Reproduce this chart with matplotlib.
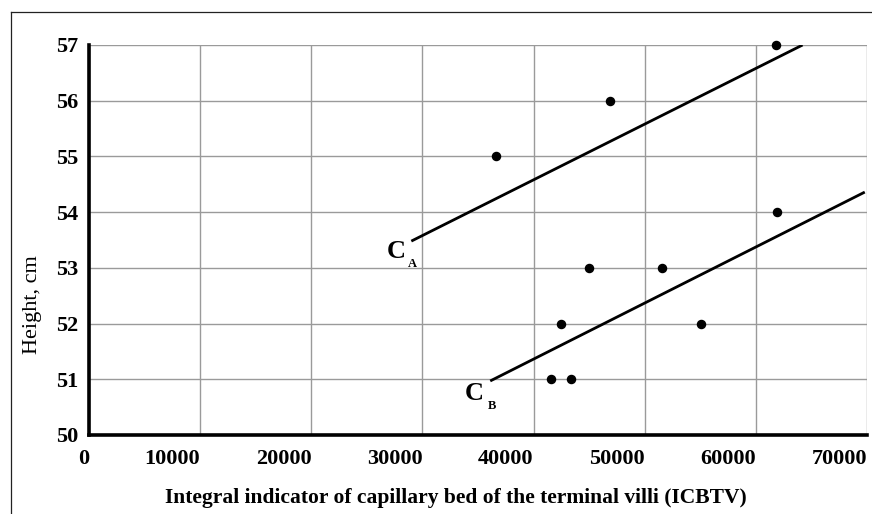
import matplotlib.pyplot as plt
from matplotlib.lines import Line2D
import numpy as np

# points
icbtv = [36600, 46900, 61800, 61900, 45000, 51600, 42500, 55100, 41600, 43400]
height = [55, 56, 57, 54, 53, 53, 52, 52, 51, 51]

# the two fitted lines (start / end)
ca_x = [29000, 64200]
ca_y = [53.48, 57.0]
cb_x = [36100, 69800]
cb_y = [50.97, 54.36]

x_ticks = np.arange(0, 70001, 10000)
y_ticks = np.arange(50, 58, 1)

serif = 'Liberation Serif'

fig = plt.figure(figsize=(8.72, 5.14), dpi=100)
ax = fig.add_axes([89 / 872, 1 - 435 / 514, 778 / 872, 390 / 514])

ax.set_xlim(0, 70000)
ax.set_ylim(50, 57)
ax.set_xticks(x_ticks)
ax.set_yticks(y_ticks)
ax.set_xticklabels([str(t) for t in x_ticks], ha='right')
ax.set_yticklabels([str(t) for t in y_ticks])
for lab in ax.get_xticklabels() + ax.get_yticklabels():
    lab.set_fontfamily(serif)
    lab.set_fontweight('bold')
    lab.set_fontsize(16)
ax.tick_params(axis='both', length=0)
ax.tick_params(axis='x', pad=10)
ax.tick_params(axis='y', pad=8)

ax.grid(True, color='#9a9a9a', linewidth=1.0)
ax.set_axisbelow(True)
for s in ['top', 'right']:
    ax.spines[s].set_visible(False)
ax.spines['left'].set_linewidth(2.6)
ax.spines['bottom'].set_linewidth(2.6)
ax.spines['left'].set_zorder(5)
ax.spines['bottom'].set_zorder(5)

ax.plot(ca_x, ca_y, color='black', linewidth=2.0, solid_capstyle='butt')
ax.plot(cb_x, cb_y, color='black', linewidth=2.0, solid_capstyle='butt')
ax.scatter(icbtv, height, s=34, color='black', zorder=4, clip_on=False)

ax.text(27620, 53.18, 'C', fontfamily=serif, fontweight='bold', fontsize=19,
        ha='center', va='baseline')
ax.text(29060, 53.02, 'A', fontfamily=serif, fontweight='bold', fontsize=9,
        ha='center', va='baseline')
ax.text(34690, 50.63, 'C', fontfamily=serif, fontweight='bold', fontsize=19,
        ha='center', va='baseline')
ax.text(36260, 50.47, 'B', fontfamily=serif, fontweight='bold', fontsize=9,
        ha='center', va='baseline')

fig.text(456 / 872, 1 - 503 / 514,
         'Integral indicator of capillary bed of the terminal villi (ICBTV)',
         fontfamily=serif, fontweight='bold', fontsize=15.5,
         ha='center', va='baseline')
fig.text(32 / 872, 1 - 305 / 514, 'Height, cm', fontfamily=serif,
         fontsize=16, rotation=90, ha='center', va='center')

# outer frame (top and left edges only visible)
fig.add_artist(Line2D([11 / 872, 11 / 872], [0, 1 - 12 / 514],
                      transform=fig.transFigure, color='#222222', linewidth=0.9))
fig.add_artist(Line2D([11 / 872, 1], [1 - 12 / 514, 1 - 12 / 514],
                      transform=fig.transFigure, color='#222222', linewidth=0.9))

fig.savefig('out.png', dpi=100)
